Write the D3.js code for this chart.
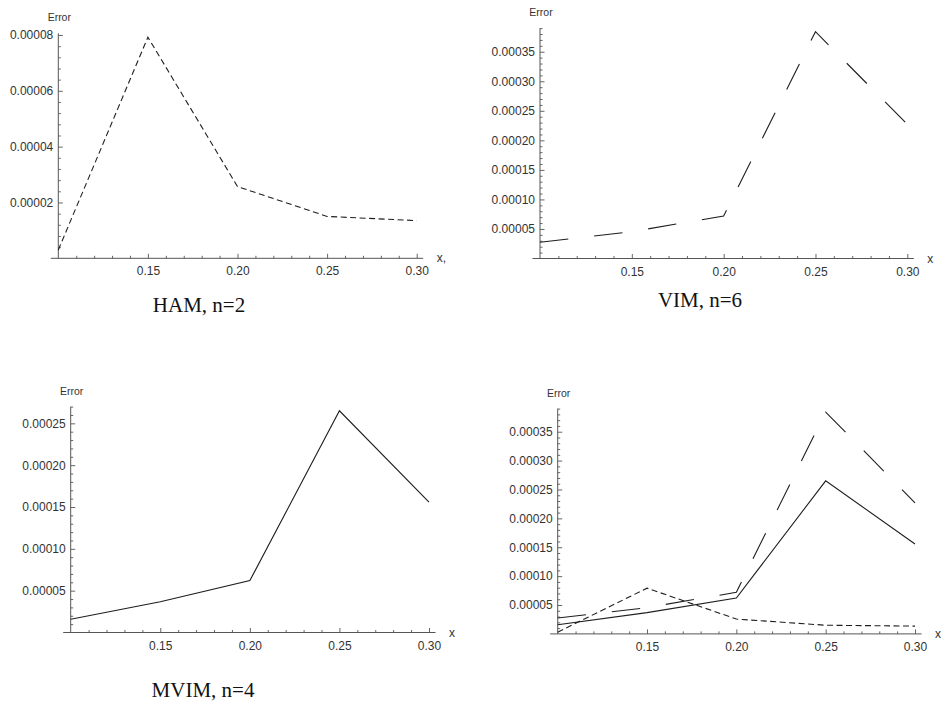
<!DOCTYPE html>
<html>
<head>
<meta charset="utf-8">
<script src="https://cdn.jsdelivr.net/npm/d3@7"></script>
<style>
  body { margin: 0; background: #fff; }
  svg { display: block; }
</style>
</head>
<body>
<div id="chart"></div>
<script>
// x positions of the computed points
var xValues = [0.10, 0.15, 0.20, 0.25, 0.30];

// absolute errors
var hamError  = [0.000003, 0.0000792, 0.0000257, 0.000015, 0.0000135];
var vimError  = [0.0000274, 0.0000455, 0.000072, 0.000384, 0.000227];
var mvimError = [0.0000158, 0.0000368, 0.000062, 0.000265, 0.0001557];

// tick labels
var xMajorTicks = [0.15, 0.20, 0.25, 0.30];
var yTicksHam  = [0.00002, 0.00004, 0.00006, 0.00008];
var yTicksVim  = [0.00005, 0.00010, 0.00015, 0.00020, 0.00025, 0.00030, 0.00035];
var yTicksMvim = [0.00005, 0.00010, 0.00015, 0.00020, 0.00025];

var captions = ["HAM, n=2", "VIM, n=6", "MVIM, n=4"];

var axisColor = "#555";
var lineColor = "#1e1e1e";
var sansFont = "'Liberation Sans', Arial, sans-serif";

var svg = d3.select("#chart").append("svg")
  .attr("width", 941)
  .attr("height", 717);

function styleAxis(sel) {
  sel.selectAll("line").attr("stroke", axisColor).attr("stroke-width", 0.9);
  sel.selectAll("text")
    .attr("fill", "#333")
    .style("font-family", sansFont)
    .style("font-size", "12px");
  sel.attr("font-family", null).attr("font-size", null);
}

function drawPanel(p, yTicks, minorStep, seriesList, xName) {
  var x = d3.scaleLinear().domain([0.10, 0.30]).range([p.left, p.right]);
  var y = d3.scaleLinear().domain([0, p.yMax]).range([p.bottom, p.top]);
  var g = svg.append("g");

  var xMinor = d3.range(0.11, 0.30, 0.01).map(v => +v.toFixed(2))
    .filter(v => xMajorTicks.indexOf(v) < 0);
  var yMinor = d3.range(1, Math.floor(p.yMax / minorStep + 1e-6) + 1)
    .map(i => i * minorStep)
    .filter(v => !yTicks.some(t => Math.abs(t - v) < minorStep / 10));

  // x axis
  g.append("g").attr("transform", "translate(0," + p.bottom + ")")
    .call(d3.axisBottom(x).tickValues(xMinor).tickSize(-2.5).tickFormat(""))
    .call(a => a.select(".domain").remove())
    .call(styleAxis);
  g.append("g").attr("transform", "translate(0," + p.bottom + ")")
    .call(d3.axisBottom(x).tickValues(xMajorTicks).tickSize(-4.5).tickPadding(8.5)
      .tickFormat(d3.format(".2f")))
    .call(a => a.select(".domain").remove())
    .call(styleAxis);
  g.append("line")
    .attr("x1", x(0.10) - 7.5).attr("x2", x(0.30) + 6.5)
    .attr("y1", p.bottom).attr("y2", p.bottom)
    .attr("stroke", axisColor).attr("stroke-width", 1);

  // y axis
  g.append("g").attr("transform", "translate(" + p.left + ",0)")
    .call(d3.axisLeft(y).tickValues(yMinor).tickSize(-2.5).tickFormat(""))
    .call(a => a.select(".domain").remove())
    .call(styleAxis);
  g.append("g").attr("transform", "translate(" + p.left + ",0)")
    .call(d3.axisLeft(y).tickValues(yTicks).tickSize(-4.5).tickPadding(5)
      .tickFormat(d3.format(".5f")))
    .call(a => a.select(".domain").remove())
    .call(styleAxis);
  g.append("line")
    .attr("x1", p.left).attr("x2", p.left)
    .attr("y1", p.bottom).attr("y2", y(p.yMax))
    .attr("stroke", axisColor).attr("stroke-width", 1);

  // axis names
  g.append("text")
    .attr("x", p.left + 1)
    .attr("y", y(p.yMax) - 12)
    .attr("text-anchor", "middle")
    .style("font-family", sansFont)
    .style("font-size", "10.5px")
    .attr("fill", "#333")
    .text("Error");
  g.append("text")
    .attr("x", x(0.30) + 20)
    .attr("y", p.bottom + 4)
    .style("font-family", sansFont)
    .style("font-size", "12px")
    .attr("fill", "#333")
    .text(xName);

  var line = d3.line()
    .x(d => x(d[0]))
    .y(d => y(d[1]));

  seriesList.forEach(function(s) {
    g.append("path")
      .datum(xValues.map((v, i) => [v, s.values[i]]))
      .attr("d", line)
      .attr("fill", "none")
      .attr("stroke", lineColor)
      .attr("stroke-width", 1.1)
      .attr("stroke-dasharray", s.dash);
  });
}

var hamSeries  = {values: hamError,  dash: "6,3.5"};
var vimSeries  = {values: vimError,  dash: "28.5,26"};
var mvimSeries = {values: mvimError, dash: null};

drawPanel({left: 58.3, right: 416.7, bottom: 258.3, top: 33.3, yMax: 0.0000806},
  yTicksHam, 0.000004, [hamSeries], "x,");
drawPanel({left: 540, right: 907.3, bottom: 258.5, top: 28.1, yMax: 0.00039},
  yTicksVim, 0.00001, [vimSeries], "x");
drawPanel({left: 70.7, right: 429, bottom: 632.5, top: 406.6, yMax: 0.00027},
  yTicksMvim, 0.00001, [mvimSeries], "x");
drawPanel({left: 557.7, right: 915, bottom: 633.9, top: 408.6, yMax: 0.00039},
  yTicksVim, 0.00001, [vimSeries, mvimSeries, hamSeries], "x");

// captions under the first three panels
var captionPos = [[199, 312], [700, 307], [203, 697]];
svg.selectAll(".caption")
  .data(captions)
  .enter().append("text")
  .attr("class", "caption")
  .attr("x", (d, i) => captionPos[i][0])
  .attr("y", (d, i) => captionPos[i][1])
  .attr("text-anchor", "middle")
  .style("font-family", "'Liberation Serif', 'Times New Roman', serif")
  .style("font-size", "21px")
  .attr("fill", "#111")
  .text(d => d);
</script>
</body>
</html>
